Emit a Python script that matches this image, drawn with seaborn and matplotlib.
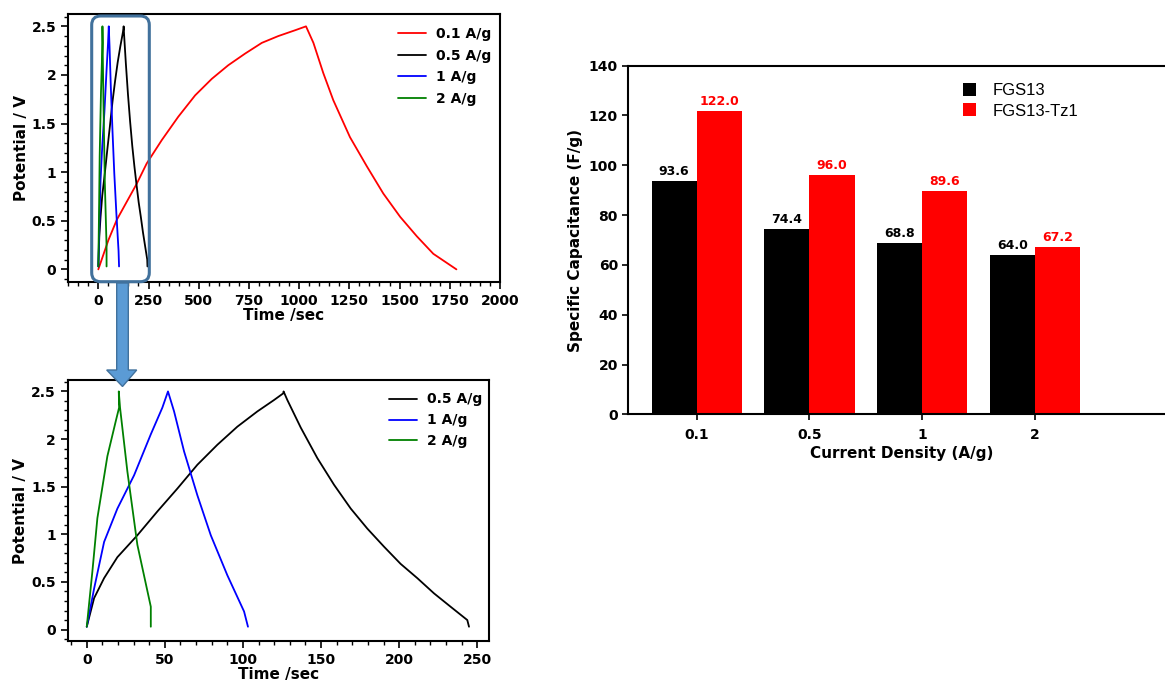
import pandas as pd
import matplotlib
matplotlib.use("Agg")
import matplotlib.pyplot as plt
import seaborn as sns
from matplotlib.ticker import AutoMinorLocator, FormatStrFormatter, MultipleLocator
from matplotlib.patches import FancyBboxPatch, Polygon
from matplotlib.transforms import IdentityTransform

# charge/discharge curves: time (s), potential (V)
t_01 = [0, 50, 92, 191, 241, 316, 398, 482, 565, 647, 731, 814, 896, 980, 1034,
        1071, 1120, 1170, 1253, 1337, 1419, 1503, 1586, 1668, 1783]
v_01 = [0, 0.30, 0.51, 0.88, 1.09, 1.33, 1.57, 1.79, 1.96, 2.10, 2.22, 2.33, 2.40, 2.46, 2.50,
        2.33, 2.02, 1.74, 1.36, 1.06, 0.78, 0.54, 0.34, 0.16, 0]

t_05 = [0, 4.7, 11.1, 19.6, 32.4, 45.2, 58, 70.8, 83.6, 96.4, 109.2, 119.9, 125.8, 126,
        128.4, 137, 147.6, 158.3, 169, 179.6, 190.3, 200.9, 211.6, 222.3, 232.9, 243.6, 244.7]
v_05 = [0.03, 0.33, 0.54, 0.76, 0.99, 1.24, 1.48, 1.73, 1.94, 2.13, 2.29, 2.41, 2.48, 2.50,
        2.41, 2.12, 1.80, 1.52, 1.27, 1.06, 0.87, 0.69, 0.54, 0.38, 0.24, 0.10, 0.03]

t_1 = [0, 4.7, 11.1, 19.6, 30.3, 41, 48.4, 52, 55.9, 62.3, 70.8, 79.4, 90, 100.7, 103.2]
v_1 = [0.03, 0.43, 0.92, 1.27, 1.62, 2.05, 2.33, 2.50, 2.29, 1.87, 1.41, 0.99, 0.57, 0.19, 0.03]

t_2 = [0, 3.6, 6.8, 13.2, 18.6, 20.7, 20.5, 21.3, 26, 32.4, 41, 41]
v_2 = [0.03, 0.61, 1.17, 1.82, 2.19, 2.33, 2.50, 2.33, 1.66, 0.89, 0.24, 0.03]

# specific capacitance bars
density = ["0.1", "0.5", "1", "2"]
fgs13 = [93.6, 74.4, 68.8, 64.0]
fgs13_tz1 = [122.0, 96.0, 89.6, 67.2]

sns.set_theme(style="ticks")
plt.rcParams["font.family"] = ["DejaVu Sans"]
plt.rcParams["font.weight"] = "bold"
plt.rcParams["axes.labelweight"] = "bold"
plt.rcParams["axes.linewidth"] = 1.5
plt.rcParams["xtick.major.width"] = 1.2
plt.rcParams["ytick.major.width"] = 1.2
plt.rcParams["xtick.minor.width"] = 1.0
plt.rcParams["ytick.minor.width"] = 1.0
plt.rcParams["xtick.color"] = "black"
plt.rcParams["ytick.color"] = "black"
plt.rcParams["axes.edgecolor"] = "black"
plt.rcParams["axes.labelcolor"] = "black"
plt.rcParams["text.color"] = "black"


def gcd_frame(parts):
    rows = []
    for name, t, v in parts:
        for a, b in zip(t, v):
            rows.append({"time": a, "potential": b, "rate": name})
    return pd.DataFrame(rows)


def style_gcd(ax, xmaj):
    ax.xaxis.set_major_locator(MultipleLocator(xmaj))
    ax.yaxis.set_major_locator(MultipleLocator(0.5))
    ax.xaxis.set_minor_locator(AutoMinorLocator(5))
    ax.yaxis.set_minor_locator(AutoMinorLocator(5))
    ax.yaxis.set_major_formatter(FormatStrFormatter("%g"))
    ax.tick_params(which="major", length=5, labelsize=10, direction="out")
    ax.tick_params(which="minor", length=3, direction="out")
    ax.tick_params(top=False, right=False, which="both")
    ax.set_xlabel("Time /sec", fontsize=11, labelpad=0)
    ax.set_ylabel("Potential / V", fontsize=11, labelpad=2)
    for lab in ax.get_xticklabels() + ax.get_yticklabels():
        lab.set_fontweight("bold")


W, H = 1165, 680
fig = plt.figure(figsize=(W / 100, H / 100), dpi=100)

# top-left: all rates
ax1 = fig.add_axes([68 / W, 1 - 282 / H, 432 / W, 268 / H])
df_all = gcd_frame([("0.1 A/g", t_01, v_01), ("0.5 A/g", t_05, v_05),
                    ("1 A/g", t_1, v_1), ("2 A/g", t_2, v_2)])
sns.lineplot(data=df_all, x="time", y="potential", hue="rate", sort=False, estimator=None,
             palette=["red", "black", "blue", "green"], lw=1.3, ax=ax1)
ax1.set_xlim(-151, 2000)
ax1.set_ylim(-0.13, 2.627)
style_gcd(ax1, 250)
h, l = ax1.get_legend_handles_labels()
ax1.legend(h, l, loc="upper left", bbox_to_anchor=(391 / W, 1 - 20 / H), bbox_transform=fig.transFigure,
           frameon=False, borderpad=0, fontsize=10, handlelength=2.0, handletextpad=0.72, labelspacing=0.55)

# bottom-left: zoom on 0.5 - 2 A/g
ax2 = fig.add_axes([67.7 / W, 1 - 641 / H, 421.3 / W, 261 / H])
df_zoom = gcd_frame([("0.5 A/g", t_05, v_05), ("1 A/g", t_1, v_1), ("2 A/g", t_2, v_2)])
sns.lineplot(data=df_zoom, x="time", y="potential", hue="rate", sort=False, estimator=None,
             palette=["black", "blue", "green"], lw=1.3, ax=ax2)
ax2.set_xlim(-12.2, 257.5)
ax2.set_ylim(-0.12, 2.62)
style_gcd(ax2, 50)
h, l = ax2.get_legend_handles_labels()
ax2.legend(h, l, loc="upper left", bbox_to_anchor=(382 / W, 1 - 385.5 / H), bbox_transform=fig.transFigure,
           frameon=False, borderpad=0, fontsize=10, handlelength=2.0, handletextpad=0.72, labelspacing=0.5)

# right: bar chart
ax3 = fig.add_axes([628.3 / W, 1 - 414.3 / H, (1175 - 628.3) / W, (414.3 - 65.7) / H])
bar_df = pd.DataFrame({
    "density": density * 2,
    "cap": fgs13 + fgs13_tz1,
    "sample": ["FGS13"] * len(density) + ["FGS13-Tz1"] * len(density),
})
sns.barplot(data=bar_df, x="density", y="cap", hue="sample", palette=["black", "red"],
            saturation=1, width=0.8, linewidth=0, ax=ax3)
ax3.set_xlim(-0.606, -0.606 + (1175 - 628.3) / 112.8)
ax3.set_ylim(0, 140)
ax3.yaxis.set_major_locator(MultipleLocator(20))
ax3.spines["right"].set_visible(False)
ax3.tick_params(length=4, labelsize=10, direction="out", top=False, right=False)
ax3.tick_params(axis="x", pad=6)
for lab in ax3.get_xticklabels() + ax3.get_yticklabels():
    lab.set_fontweight("bold")
ax3.set_xlabel("Current Density (A/g)", fontsize=11, labelpad=3)
ax3.set_ylabel("Specific Capacitance (F/g)", fontsize=11)
for cont, col in zip(ax3.containers, ["black", "red"]):
    ax3.bar_label(cont, fmt="%.1f", padding=2, color=col, fontsize=9, fontweight="bold")
h, l = ax3.get_legend_handles_labels()
ax3.legend(h, l, loc="upper left", bbox_to_anchor=(954.5 / W, 1 - 74.5 / H), bbox_transform=fig.transFigure,
           frameon=False, borderpad=0, handlelength=0.8, handleheight=0.8, handletextpad=1.0,
           labelspacing=0.32, prop={"family": "Liberation Sans", "size": 12, "weight": "normal"})

# highlight box on the short-time curves and the arrow to the zoomed panel
box = FancyBboxPatch((91.7, H - 281.7), 57.6, 265.7, boxstyle="round,pad=0,rounding_size=9",
                     transform=IdentityTransform(), fill=False, ec="#41719C", lw=2.2, zorder=10)
fig.add_artist(box)
arrow_px = [(116.7, 283), (128.3, 283), (128.3, 370), (136.7, 370), (122.5, 386.5),
            (106.7, 370), (116.7, 370)]
arrow = Polygon([(x, H - y) for x, y in arrow_px], closed=True, transform=IdentityTransform(),
                fc="#5B9BD5", ec="#41719C", lw=1, zorder=11)
fig.add_artist(arrow)

fig.savefig("out.png", dpi=100)
